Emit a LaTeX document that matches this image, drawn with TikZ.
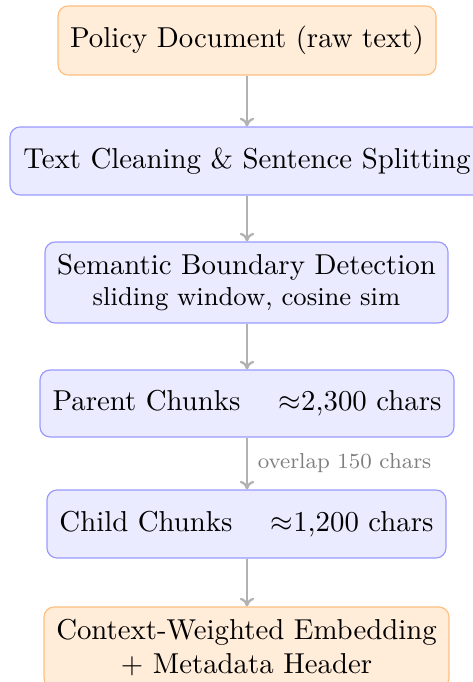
\documentclass[tikz,border=0pt]{standalone}
\usetikzlibrary{arrows.meta}
\def\pxu{0.3472pt}
\tikzset{
  stage/.style={draw, rounded corners=3.5pt, line width=0.4pt, align=center,
    inner xsep=2pt, inner ysep=2pt},
  inout/.style={stage, fill=orange!15, draw=orange!50},
  proc/.style={stage, fill=blue!8, draw=blue!40},
  flow/.style={draw=gray!60, line width=0.8pt, -{To[length=3pt,width=5pt]}},
  note/.style={font=\fontsize{7.5}{9}\selectfont, text=gray},
}
\begin{document}
\begin{tikzpicture}[x=\pxu, y=-\pxu]
\useasboundingbox (0,0) rectangle (472,682);

\node[inout, minimum width=378*\pxu, minimum height=69*\pxu] (doc) at (247,40.5)
  {Policy Document (raw text)};
\node[proc, minimum width=474*\pxu, minimum height=68*\pxu] (clean) at (247,161)
  {Text Cleaning \& Sentence Splitting};
\node[proc, minimum width=403*\pxu, minimum height=81*\pxu] (sem) at (246.5,282.5)
  {Semantic Boundary Detection\\[-1pt] {\small sliding window, cosine sim}};
\node[proc, minimum width=414*\pxu, minimum height=67*\pxu] (parent) at (247,403.5)
  {Parent Chunks \quad $\approx$2,300 chars};
\node[proc, minimum width=399*\pxu, minimum height=68*\pxu] (child) at (246.5,524)
  {Child Chunks \quad $\approx$1,200 chars};
\node[inout, minimum width=405*\pxu, minimum height=81*\pxu] (embed) at (246.5,647.5)
  {Context-Weighted Embedding\\ + Metadata Header};

\draw[flow] (doc.south -| 247,0) -- (clean.north -| 247,0);
\draw[flow] (clean.south -| 247,0) -- (sem.north -| 247,0);
\draw[flow] (sem.south -| 247,0) -- (parent.north -| 247,0);
\draw[flow] (parent.south -| 247,0) -- node[right, note]
  {overlap 150 chars} (child.north -| 247,0);
\draw[flow] (child.south -| 247,0) -- (embed.north -| 247,0);
\end{tikzpicture}
\end{document}
